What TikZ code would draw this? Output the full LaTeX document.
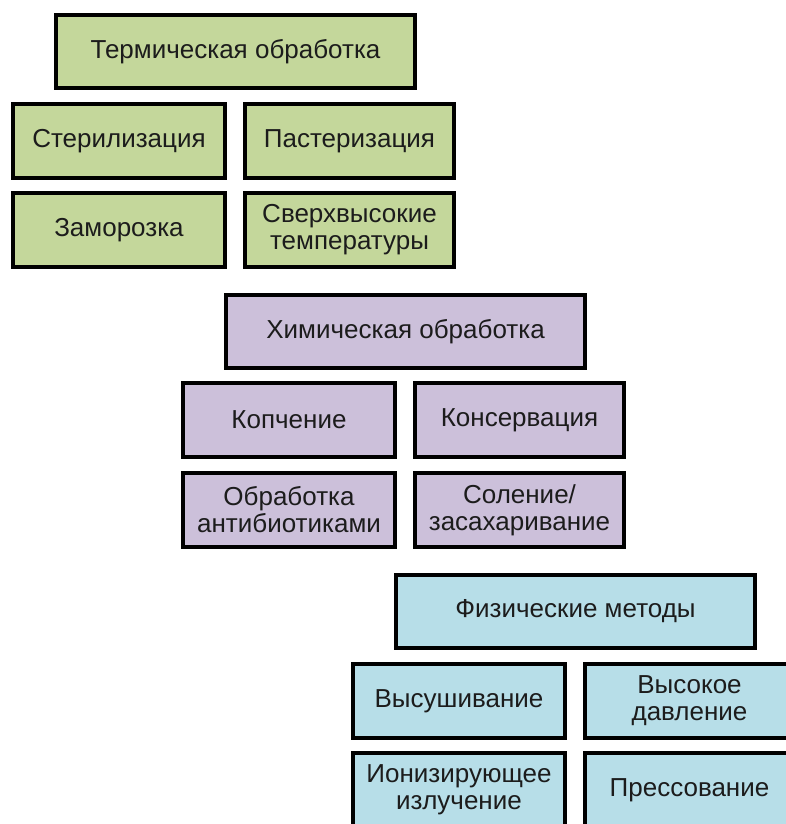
\documentclass[tikz,border=0pt]{standalone}
\usepackage{fontspec}
\setmainfont{Liberation Sans}
\definecolor{gfill}{RGB}{196,215,155}
\definecolor{pfill}{RGB}{204,192,218}
\definecolor{bfill}{RGB}{183,222,232}
\definecolor{txt}{RGB}{28,28,28}
\begin{document}
\begin{tikzpicture}[x=1pt,y=-1pt,
  box/.style={draw=black, line width=4.4pt, rectangle, align=center, inner sep=0pt,
    text=txt, font=\fontsize{26}{27}\selectfont},
  headbox/.style={box, minimum width=359pt, minimum height=73pt},
  leftbox/.style={box, minimum width=212pt, minimum height=74pt},
  rightbox/.style={box, minimum width=209pt, minimum height=74pt},
  gbox/.style={fill=gfill},
  pbox/.style={fill=pfill},
  bbox/.style={fill=bfill}]
\useasboundingbox (0,0) rectangle (786,824);
\fill[white] (0,0) rectangle (786,824);
\clip (0,0) rectangle (786,824);
% green group
\node[headbox,gbox] (t0) at (235.5,51.5) {Термическая обработка};
\node[leftbox,gbox] (t1) at (119,141) {Стерилизация};
\node[rightbox,gbox] (t2) at (349.5,141) {Пастеризация};
\node[leftbox,gbox] (t3) at (119,230) {Заморозка};
\node[rightbox,gbox] (t4) at (349.5,230) {Сверхвысокие\\температуры};
% purple group
\node[headbox,pbox] (c0) at (405.5,331.5) {Химическая обработка};
\node[leftbox,pbox] (c1) at (289,420) {Копчение};
\node[rightbox,pbox] (c2) at (519.5,420) {Консервация};
\node[leftbox,pbox] (c3) at (289,510) {Обработка\\антибиотиками};
\node[rightbox,pbox] (c4) at (519.5,510) {Соление/\\засахаривание};
% blue group
\node[headbox,bbox] (f0) at (575.5,611.5) {Физические методы};
\node[leftbox,bbox] (f1) at (459,701) {Высушивание};
\node[rightbox,bbox] (f2) at (689.5,701) {Высокое\\давление};
\node[leftbox,bbox] (f3) at (459,790) {Ионизирующее\\излучение};
\node[rightbox,bbox] (f4) at (689.5,790) {Прессование};
\end{tikzpicture}
\end{document}
